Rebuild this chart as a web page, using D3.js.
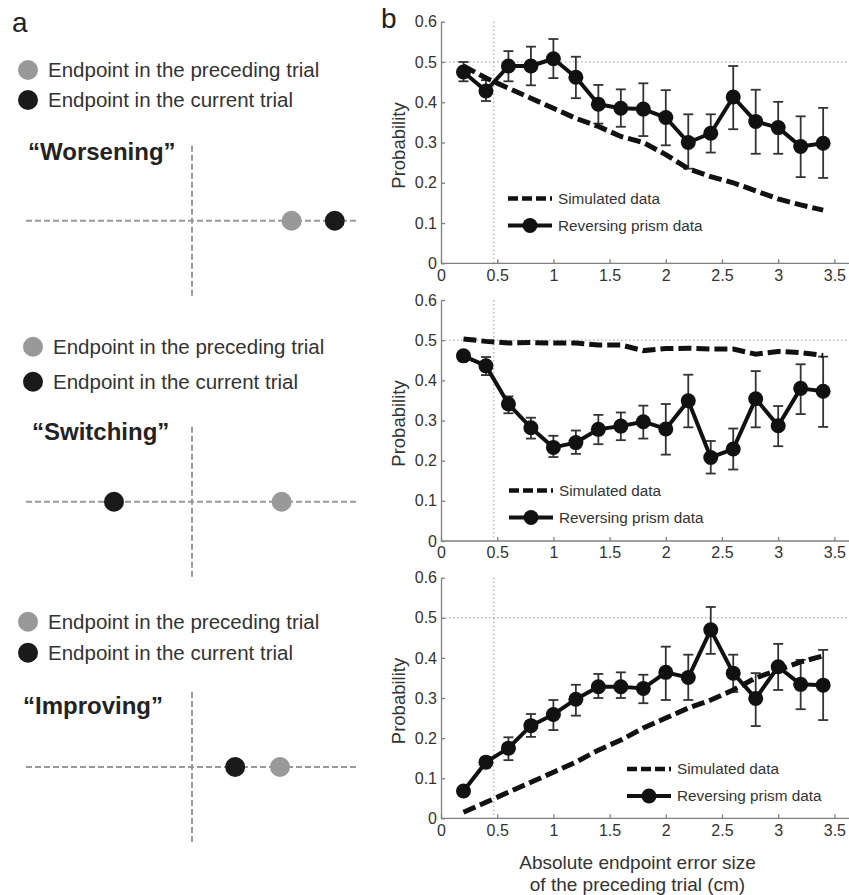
<!DOCTYPE html>
<html>
<head>
<meta charset="utf-8">
<script src="https://cdn.jsdelivr.net/npm/d3@7"></script>
<style>
  body { margin: 0; background: #fff; }
  svg { display: block; font-family: "Liberation Sans", Arial, Helvetica, sans-serif; }
  .tick text { fill: #333; font-size: 16px; }
  .axis path, .axis line { stroke: #808080; stroke-width: 1.3; }
</style>
</head>
<body>
<div id="chart"></div>
<script>
// ---- data ----
var xVals = [0.2, 0.4, 0.6, 0.8, 1.0, 1.2, 1.4, 1.6, 1.8, 2.0, 2.2, 2.4, 2.6, 2.8, 3.0, 3.2, 3.4];
var xTicks = [0, 0.5, 1, 1.5, 2, 2.5, 3, 3.5];
var yTicks = [0, 0.1, 0.2, 0.3, 0.4, 0.5, 0.6];

var worsenMean  = [0.475, 0.428, 0.490, 0.490, 0.508, 0.462, 0.395, 0.385, 0.383, 0.362, 0.300, 0.323, 0.413, 0.352, 0.337, 0.290, 0.298];
var worsenUpper = [0.500, 0.455, 0.527, 0.538, 0.557, 0.513, 0.443, 0.432, 0.447, 0.430, 0.370, 0.370, 0.490, 0.431, 0.401, 0.365, 0.386];
var worsenLower = [0.452, 0.403, 0.452, 0.442, 0.460, 0.410, 0.347, 0.339, 0.316, 0.293, 0.235, 0.275, 0.333, 0.272, 0.272, 0.214, 0.212];
var worsenSim   = [0.490, 0.460, 0.435, 0.410, 0.385, 0.360, 0.340, 0.315, 0.300, 0.270, 0.235, 0.215, 0.200, 0.180, 0.160, 0.145, 0.132];

var switchMean  = [0.461, 0.436, 0.341, 0.282, 0.233, 0.245, 0.278, 0.286, 0.297, 0.279, 0.349, 0.208, 0.229, 0.354, 0.287, 0.380, 0.373];
var switchUpper = [0.470, 0.458, 0.360, 0.307, 0.262, 0.275, 0.314, 0.320, 0.337, 0.341, 0.414, 0.249, 0.280, 0.423, 0.336, 0.440, 0.459];
var switchLower = [0.450, 0.413, 0.318, 0.255, 0.209, 0.217, 0.241, 0.251, 0.255, 0.215, 0.283, 0.168, 0.178, 0.283, 0.236, 0.316, 0.284];
var switchSim   = [0.503, 0.497, 0.493, 0.494, 0.493, 0.493, 0.488, 0.488, 0.474, 0.479, 0.480, 0.478, 0.478, 0.465, 0.472, 0.469, 0.462];

var improveMean  = [0.068, 0.140, 0.175, 0.231, 0.259, 0.297, 0.328, 0.328, 0.324, 0.364, 0.351, 0.470, 0.362, 0.299, 0.378, 0.334, 0.332];
var improveUpper = [0.075, 0.153, 0.202, 0.260, 0.295, 0.333, 0.360, 0.364, 0.358, 0.428, 0.408, 0.527, 0.408, 0.362, 0.435, 0.395, 0.420];
var improveLower = [0.061, 0.127, 0.145, 0.203, 0.220, 0.256, 0.300, 0.300, 0.287, 0.295, 0.295, 0.410, 0.315, 0.230, 0.320, 0.272, 0.245];
var improveSim   = [0.015, 0.040, 0.065, 0.090, 0.115, 0.140, 0.170, 0.195, 0.225, 0.250, 0.275, 0.295, 0.320, 0.350, 0.370, 0.390, 0.405];

var chanceLevel = 0.5;
var errorThreshold = 0.47;

// panel a: endpoint positions on the horizontal axis (-1 .. 1, 0 = target)
var schemeNames = ['\u201cWorsening\u201d', '\u201cSwitching\u201d', '\u201cImproving\u201d'];
var schemePreceding = [0.60, 0.54, 0.53];
var schemeCurrent = [0.86, -0.47, 0.26];
var legendLabels = ['Endpoint in the preceding trial', 'Endpoint in the current trial'];
var seriesLabels = ['Simulated data', 'Reversing prism data'];

// ---- layout ----
var W = 849, H = 895;
var svg = d3.select('#chart').append('svg').attr('width', W).attr('height', H);

var x = d3.scaleLinear().domain([0, 3.63]).range([441, 849]);

var panels = [
    { mean: worsenMean, upper: worsenUpper, lower: worsenLower, sim: worsenSim,
      top: 21.7, bottom: 263.3, legX: 508, legY: 198.5 },
    { mean: switchMean, upper: switchUpper, lower: switchLower, sim: switchSim,
      top: 300, bottom: 541, legX: 509, legY: 490.5 },
    { mean: improveMean, upper: improveUpper, lower: improveLower, sim: improveSim,
      top: 577.7, bottom: 818.3, legX: 627, legY: 769 }
];

var fmt = function(d) { return d3.format('~g')(d); };

panels.forEach(function(p) {
    var y = d3.scaleLinear().domain([0, 0.6]).range([p.bottom, p.top]);
    var g = svg.append('g');

    // dotted reference lines
    g.append('line')
        .attr('x1', x(0)).attr('x2', W)
        .attr('y1', y(chanceLevel)).attr('y2', y(chanceLevel))
        .attr('stroke', '#999').attr('stroke-width', 1).attr('stroke-dasharray', '1.5,2.5');
    g.append('line')
        .attr('x1', x(errorThreshold)).attr('x2', x(errorThreshold))
        .attr('y1', y(0.6)).attr('y2', y(0))
        .attr('stroke', '#999').attr('stroke-width', 1).attr('stroke-dasharray', '1.5,2.5');

    // axes
    g.append('g').attr('class', 'axis')
        .attr('transform', 'translate(0,' + p.bottom + ')')
        .call(d3.axisBottom(x).tickValues(xTicks).tickFormat(fmt).tickSizeInner(-4).tickSizeOuter(0).tickPadding(6))
        .call(function(a) { a.select('.domain').attr('d', 'M' + x(0) + ',0H' + W); });
    g.append('g').attr('class', 'axis')
        .attr('transform', 'translate(' + x(0) + ',0)')
        .call(d3.axisLeft(y).tickValues(yTicks).tickFormat(fmt).tickSizeInner(-4).tickSizeOuter(0).tickPadding(4));

    g.append('text')
        .attr('transform', 'translate(405,' + ((p.top + p.bottom) / 2 + 3) + ') rotate(-90)')
        .attr('text-anchor', 'middle')
        .attr('font-size', 18.5).attr('fill', '#333')
        .text('Probability');

    // error bars
    var eb = g.append('g').attr('stroke', '#333').attr('stroke-width', 1.8);
    xVals.forEach(function(xv, i) {
        eb.append('line').attr('x1', x(xv)).attr('x2', x(xv))
            .attr('y1', y(p.lower[i])).attr('y2', y(p.upper[i]));
        [p.lower[i], p.upper[i]].forEach(function(v) {
            eb.append('line').attr('x1', x(xv) - 5).attr('x2', x(xv) + 5)
                .attr('y1', y(v)).attr('y2', y(v));
        });
    });

    var line = d3.line().x(function(d) { return x(d[0]); }).y(function(d) { return y(d[1]); });

    g.append('path')
        .attr('d', line(xVals.map(function(v, i) { return [v, p.mean[i]]; })))
        .attr('fill', 'none').attr('stroke', '#111').attr('stroke-width', 4).attr('stroke-linejoin', 'round');
    g.selectAll('circle.pt').data(xVals).enter().append('circle')
        .attr('cx', function(d) { return x(d); })
        .attr('cy', function(d, i) { return y(p.mean[i]); })
        .attr('r', 7.5).attr('fill', '#111');

    g.append('path')
        .attr('d', line(xVals.map(function(v, i) { return [v, p.sim[i]]; })))
        .attr('fill', 'none').attr('stroke', '#111').attr('stroke-width', 5)
        .attr('stroke-dasharray', '13,5');

    // legend
    var lg = g.append('g').attr('transform', 'translate(' + p.legX + ',' + p.legY + ')');
    lg.append('line').attr('x1', 0).attr('x2', 44).attr('y1', 0).attr('y2', 0)
        .attr('stroke', '#111').attr('stroke-width', 4.5).attr('stroke-dasharray', '10,4');
    lg.append('line').attr('x1', 0).attr('x2', 44).attr('y1', 27).attr('y2', 27)
        .attr('stroke', '#111').attr('stroke-width', 4);
    lg.append('circle').attr('cx', 22).attr('cy', 27).attr('r', 7.5).attr('fill', '#111');
    seriesLabels.forEach(function(t, i) {
        lg.append('text').attr('x', 50).attr('y', i * 27).attr('dy', '0.35em')
            .attr('font-size', 15.3).attr('fill', '#333').text(t);
    });
});

// x axis title
var xt = svg.append('text').attr('text-anchor', 'middle').attr('font-size', 19).attr('fill', '#333');
xt.append('tspan').attr('x', 637.5).attr('y', 868.5).text('Absolute endpoint error size');
xt.append('tspan').attr('x', 637.5).attr('y', 890.5).text('of the preceding trial (cm)');

// panel letters
svg.append('text').attr('x', 12).attr('y', 32).attr('font-size', 28).attr('fill', '#222').text('a');
svg.append('text').attr('x', 381).attr('y', 28).attr('font-size', 28).attr('fill', '#222').text('b');

// ---- panel a schematics ----
var sx = d3.scaleLinear().domain([-1, 1]).range([26, 358]);
var schemes = [
    { legX: 28, legY: [70, 100], titleX: 28, titleY: 160, cy: 220.7 },
    { legX: 33, legY: [346.7, 381.7], titleX: 32, titleY: 440, cy: 501.7 },
    { legX: 28, legY: [621.7, 652.7], titleX: 23, titleY: 713.5, cy: 767 }
];
var dotColors = ['#999', '#1a1a1a'];

schemes.forEach(function(s, k) {
    var g = svg.append('g');
    s.legY.forEach(function(ly, i) {
        g.append('circle').attr('cx', s.legX).attr('cy', ly).attr('r', 10).attr('fill', dotColors[i]);
        g.append('text').attr('x', s.legX + 20).attr('y', ly).attr('dy', '0.36em')
            .attr('font-size', 20.5).attr('fill', '#333').text(legendLabels[i]);
    });
    g.append('text').attr('x', s.titleX).attr('y', s.titleY)
        .attr('font-size', 24).attr('font-weight', 'bold').attr('fill', '#222').text(schemeNames[k]);

    g.append('line').attr('x1', sx(-1)).attr('x2', sx(1)).attr('y1', s.cy).attr('y2', s.cy)
        .attr('stroke', '#999').attr('stroke-width', 2).attr('stroke-dasharray', '6,3');
    g.append('line').attr('x1', sx(0)).attr('x2', sx(0)).attr('y1', s.cy - 75).attr('y2', s.cy + 75)
        .attr('stroke', '#999').attr('stroke-width', 2).attr('stroke-dasharray', '6,3');

    g.append('circle').attr('cx', sx(schemePreceding[k])).attr('cy', s.cy).attr('r', 10).attr('fill', dotColors[0]);
    g.append('circle').attr('cx', sx(schemeCurrent[k])).attr('cy', s.cy).attr('r', 10).attr('fill', dotColors[1]);
});
</script>
</body>
</html>
